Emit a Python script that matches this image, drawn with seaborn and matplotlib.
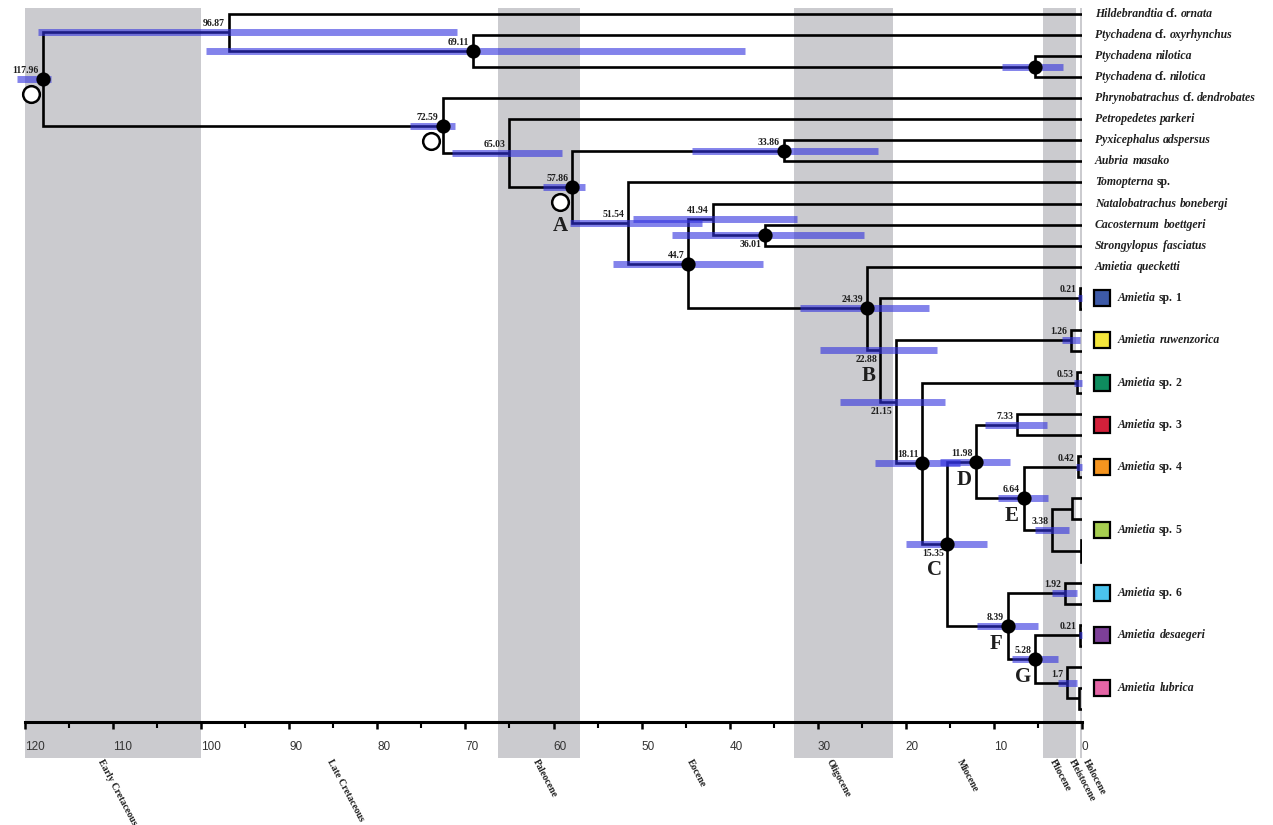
"""
Dated phylogeny of pyxicephalid frogs (Amietia) with 95% HPD bars
and geological epochs along the time axis.
"""
import numpy as np
import pandas as pd
import seaborn as sns
import matplotlib
matplotlib.use('Agg')
import matplotlib.pyplot as plt
import matplotlib.transforms as mtransforms

sns.set_theme(style="white")
plt.rcParams['font.family'] = ['Liberation Serif', 'DejaVu Serif']

# ---------------- data ----------------
# tips from top to bottom
tips = [
    'Hildebrandtia cf. ornata', 'Ptychadena cf. oxyrhynchus', 'Ptychadena nilotica',
    'Ptychadena cf. nilotica', 'Phrynobatrachus cf. dendrobates', 'Petropedetes parkeri',
    'Pyxicephalus adspersus', 'Aubria masako', 'Tomopterna sp.', 'Natalobatrachus bonebergi',
    'Cacosternum boettgeri', 'Strongylopus fasciatus', 'Amietia quecketti',
    'sp1_a', 'sp1_b', 'ruw_a', 'ruw_b', 'sp2_a', 'sp2_b', 'sp3_a', 'sp3_b',
    'sp4_a', 'sp4_b', 'sp5_a', 'sp5_b', 'sp5_c', 'sp5_d', 'sp6_a', 'sp6_b',
    'des_a', 'des_b', 'lub_a', 'lub_b', 'lub_c',
]

# Amietia clades shown with coloured boxes
clade_names = ['Amietia sp. 1', 'Amietia ruwenzorica', 'Amietia sp. 2', 'Amietia sp. 3',
               'Amietia sp. 4', 'Amietia sp. 5', 'Amietia sp. 6', 'Amietia desaegeri',
               'Amietia lubrica']
clade_keys = ['sp1', 'ruw', 'sp2', 'sp3', 'sp4', 'sp5', 'sp6', 'des', 'lub']
clade_colors = ['#3d5aa8', '#f4e63c', '#0e8c5e', '#d2203a', '#f6951f',
                '#a6cd50', '#4bc4ee', '#7d3f98', '#e565a6']

# internal nodes (age in Ma, two children)
node_ids = ['root', 'n96', 'n69', 'nPty', 'n72', 'n65', 'n57', 'n33', 'n51', 'n44',
            'n41', 'n36', 'n24', 'nB', 'nSp1', 'n21', 'nRuw', 'n18', 'nSp2', 'nC',
            'nD', 'n7', 'nE', 'nSp4', 'n3', 'n5a', 'n5b', 'nF', 'n192', 'nG',
            'nDes', 'n17', 'nLub']
node_ages = [117.96, 96.87, 69.11, 5.3, 72.59, 65.03, 57.86, 33.86, 51.54, 44.7,
             41.94, 36.01, 24.39, 22.88, 0.21, 21.15, 1.26, 18.11, 0.53, 15.35,
             11.98, 7.33, 6.64, 0.42, 3.38, 1.1, 0.1, 8.39, 1.92, 5.28,
             0.21, 1.7, 0.35]
node_children = [
    ('n96', 'n72'), ('Hildebrandtia cf. ornata', 'n69'),
    ('Ptychadena cf. oxyrhynchus', 'nPty'), ('Ptychadena nilotica', 'Ptychadena cf. nilotica'),
    ('Phrynobatrachus cf. dendrobates', 'n65'), ('Petropedetes parkeri', 'n57'),
    ('n33', 'n51'), ('Pyxicephalus adspersus', 'Aubria masako'),
    ('Tomopterna sp.', 'n44'), ('n41', 'n24'),
    ('Natalobatrachus bonebergi', 'n36'), ('Cacosternum boettgeri', 'Strongylopus fasciatus'),
    ('Amietia quecketti', 'nB'), ('nSp1', 'n21'), ('sp1_a', 'sp1_b'),
    ('nRuw', 'n18'), ('ruw_a', 'ruw_b'), ('nSp2', 'nC'), ('sp2_a', 'sp2_b'),
    ('nD', 'nF'), ('n7', 'nE'), ('sp3_a', 'sp3_b'), ('nSp4', 'n3'), ('sp4_a', 'sp4_b'),
    ('n5a', 'n5b'), ('sp5_a', 'sp5_b'), ('sp5_c', 'sp5_d'), ('n192', 'nG'),
    ('sp6_a', 'sp6_b'), ('nDes', 'n17'), ('des_a', 'des_b'), ('lub_a', 'nLub'),
    ('lub_b', 'lub_c'),
]
# 95% HPD of node ages (old, young); nan = not drawn
hpd_old = [120.9, 118.5, 99.4, 9.1, 76.3, 71.5, 61.2, 44.3, 58.1, 53.3,
           51.0, 46.5, 32.0, 29.7, 0.45, 27.5, 2.3, 23.5, 0.9, 20.0,
           16.1, 11.0, 9.5, 0.7, 5.3, np.nan, np.nan, 11.9, 3.4, 7.9,
           0.35, 2.7, np.nan]
hpd_young = [117.1, 70.9, 38.3, 2.2, 71.2, 59.0, 56.4, 23.2, 43.1, 36.2,
             32.3, 24.7, 17.4, 16.5, 0.0, 15.6, 0.2, 13.9, 0.0, 10.8,
             8.2, 4.0, 3.9, 0.0, 1.5, np.nan, np.nan, 5.0, 0.6, 2.7,
             0.0, 0.6, np.nan]
# high posterior support (filled circle)
supported = ['root', 'n69', 'nPty', 'n72', 'n57', 'n33', 'n44', 'n36', 'n24',
             'n18', 'nC', 'nD', 'nE', 'nF', 'nG']
calibrated = ['root', 'n72', 'n57']          # open circles
unlabelled = ['nPty', 'n5a', 'n5b', 'nLub']
label_below = ['n36', 'nB', 'n21', 'nC']
letter_nodes = ['n57', 'nB', 'nC', 'nD', 'nE', 'nF', 'nG']
letters = ['A', 'B', 'C', 'D', 'E', 'F', 'G']

# geological epochs
epochs = ['Early Cretaceous', 'Late Cretaceous', 'Paleocene', 'Eocene', 'Oligocene',
          'Miocene', 'Pliocene', 'Pleistocene', 'Holocene']
epoch_start = [120.0, 100.0, 66.3, 57.0, 32.7, 21.5, 4.4, 0.7, 0.25]
epoch_end = [100.0, 66.3, 57.0, 32.7, 21.5, 4.4, 0.7, 0.25, 0.0]
epoch_label_at = [111.0, 85.0, 61.6, 44.2, 28.3, 13.5, 2.9, 0.8, -0.8]
shaded = ['Early Cretaceous', 'Paleocene', 'Oligocene', 'Pliocene', 'Holocene']

# ---------------- layout ----------------
tip_y = {t: i for i, t in enumerate(tips)}
kids = dict(zip(node_ids, node_children))
age = dict(zip(node_ids, node_ages))
age.update({t: 0.0 for t in tips})


def ypos(n):
    if n in tip_y:
        return float(tip_y[n])
    a, b = kids[n]
    return (ypos(a) + ypos(b)) / 2


nodes = pd.DataFrame({'id': node_ids, 'age': node_ages,
                      'old': hpd_old, 'young': hpd_young})
nodes['y'] = [ypos(n) for n in node_ids]
ny = dict(zip(nodes['id'], nodes['y']))

W, H = 1273, 825
fig = plt.figure(figsize=(W / 100, H / 100), dpi=100)
ax = fig.add_axes([25 / W, 1 - 722 / H, 1057 / W, 714 / H])


def px(x, y):
    return mtransforms.offset_copy(ax.transData, fig=fig, x=x, y=y, units='dots')


ink = '#1e1e1e'
bar_color = '#3131de'

# epoch shading
for name, s, e in zip(epochs, epoch_start, epoch_end):
    if name in shaded:
        ax.axvspan(s, e, ymin=-0.05, ymax=1, color='#cbcbcf', lw=0,
                   zorder=0, clip_on=False)

# branches
for n, (a, b) in zip(node_ids, node_children):
    xs = [age[a], age[n], age[n], age[b]]
    ys = [ypos(a), ypos(a), ypos(b), ypos(b)]
    ax.plot(xs, ys, color='black', lw=1.9, solid_joinstyle='miter',
            solid_capstyle='butt', zorder=2)

# HPD bars
bars = nodes.dropna(subset=['old'])
ax.hlines(bars['y'], bars['old'], bars['young'], color=bar_color, alpha=0.6,
          lw=5, zorder=3, capstyle='butt', clip_on=False)

# supported nodes
sup = nodes[nodes['id'].isin(supported)]
sns.scatterplot(data=sup, x='age', y='y', color='black', s=105, linewidth=0,
                ax=ax, zorder=5, legend=False)

# calibration points
for n in calibrated:
    ax.plot(age[n], ny[n], 'o', mfc='white', mec='black', ms=12, mew=1.8,
            transform=px(-12, -15), zorder=5, clip_on=False)

# node age labels
for n, a in zip(node_ids, node_ages):
    if n in unlabelled:
        continue
    if n in label_below:
        ax.annotate(f'{a:g}', (a, ny[n]), xytext=(-3, -5), textcoords='offset pixels',
                    ha='right', va='top', fontsize=7, fontweight='bold', color=ink,
                    zorder=6, annotation_clip=False)
    else:
        ax.annotate(f'{a:g}', (a, ny[n]), xytext=(-4, 6), textcoords='offset pixels',
                    ha='right', va='baseline', fontsize=7, fontweight='bold', color=ink,
                    zorder=6, annotation_clip=False)

# clade letters
for n, L in zip(letter_nodes, letters):
    dy = -18
    if n in label_below:
        dy = -26
    if n in calibrated:
        dy = -39
    ax.annotate(L, (age[n], ny[n]), xytext=(-12, dy), textcoords='offset pixels',
                ha='center', va='center', fontsize=15, fontweight='bold', color=ink,
                zorder=6, annotation_clip=False)


def taxon(y, name, dx, size=8.5):
    prev, prev_style = None, None
    for w in name.split(' '):
        style = 'normal' if (w in ('cf.', 'sp.') or w.isdigit()) else 'italic'
        kw = dict(fontsize=size, fontweight='bold', fontstyle=style, color=ink,
                  ha='left', annotation_clip=False)
        if prev is None:
            prev = ax.annotate(w, (0, y), xytext=(dx, 0), textcoords='offset pixels',
                               va='center', **kw)
        else:
            if prev_style == 'italic' and style == 'italic':
                gap = 3.6
            elif prev_style == 'italic':
                gap = 3.2
            else:
                gap = 2.6
            prev = ax.annotate(w, (1, 0), xycoords=prev, xytext=(gap, 0),
                               textcoords='offset pixels', va='bottom', **kw)
        prev_style = style


for t in tips:
    if '_' not in t:
        taxon(tip_y[t], t, 13)

for name, key, col in zip(clade_names, clade_keys, clade_colors):
    ys = [tip_y[t] for t in tips if t.startswith(key + '_')]
    yc = np.mean(ys)
    ax.plot(0, yc, 's', color=col, mec='black', mew=1.6, ms=11,
            transform=px(20, 0), clip_on=False, zorder=5)
    taxon(yc, name, 36)

# axis
ax.set_xlim(120, 0)
ax.set_ylim(len(tips) - 1 + 0.62, -0.285)
ax.set_xlabel('')
ax.set_ylabel('')
ax.set_yticks([])
ax.set_xticks(range(0, 121, 10))
ax.set_xticks(range(5, 120, 10), minor=True)
ax.set_xticklabels([str(v) for v in range(0, 121, 10)],
                   family=['Liberation Sans', 'DejaVu Sans'], fontsize=8.5, color='#333333')
for lbl in ax.get_xticklabels():
    lbl.set_ha('left')
ax.tick_params(axis='x', which='major', bottom=True, direction='out', length=5,
               width=1.8, color='black', pad=9)
ax.tick_params(axis='x', which='minor', bottom=True, direction='out', length=4,
               width=1.5, color='black')
for side in ['left', 'right', 'top']:
    ax.spines[side].set_visible(False)
ax.spines['bottom'].set_color('black')
ax.spines['bottom'].set_linewidth(2.2)
ax.spines['bottom'].set_zorder(4)
ax.set_facecolor('none')
ax.grid(False)

# epoch names under the axis
trans = mtransforms.blended_transform_factory(ax.transData, ax.transAxes)
for name, x in zip(epochs, epoch_label_at):
    ax.text(x, -0.05, name, transform=trans, rotation=-62, rotation_mode='anchor',
            ha='left', va='top', fontsize=7.1, fontweight='bold', color=ink,
            clip_on=False)

fig.savefig('out.png', dpi=100, facecolor='white')
plt.close(fig)
